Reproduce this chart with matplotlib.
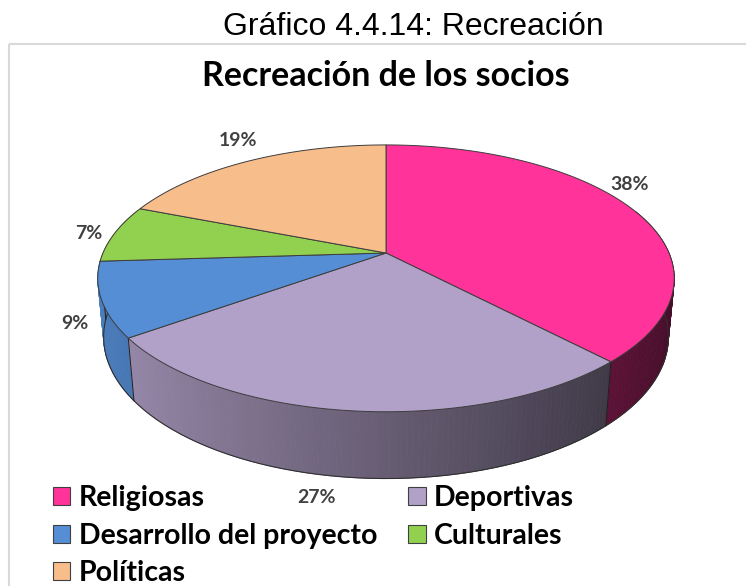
import numpy as np
import matplotlib.pyplot as plt
from matplotlib.colors import to_rgb
from matplotlib.patches import Polygon, Rectangle

categories = ["Religiosas", "Deportivas", "Desarrollo del proyecto", "Culturales", "Políticas"]
shares = [38, 27, 9, 7, 19]
colors = ["#FF3399", "#B1A0C7", "#558ED5", "#92D050", "#F7BD8B"]
pct_labels = [f"{v}%" for v in shares]

# perspective view of the disc, in pixel units
CX, CY = 386, 253
A, B = 283, 128.6
K, M, H = 0.19, 0.02, 58.6

# label nudges (pixels) from the rim point at the slice middle
label_offsets = [(-2, -24), (-37, 20), (-27, 24), (-26, 0), (-11, -21)]


def project(phi, r=1.0, z=0.0):
    """phi clockwise from 12 o'clock, z=0 top face, z=1 bottom face."""
    X = r * np.sin(phi)
    Y = r * np.cos(phi)
    d = 1 + K * Y + M * z
    return CX + A * X / d, CY + (-B * Y + H * z) / d


fig = plt.figure(figsize=(7.46, 5.86), dpi=100)
ax = fig.add_axes([0, 0, 1, 1])
ax.set_xlim(0, 746)
ax.set_ylim(586, 0)
ax.axis("off")

# chart area border
ax.add_patch(Rectangle((9, 44), 800, 600, fill=False, edgecolor="#D9D9D9", lw=1.5))

fractions = np.array(shares) / sum(shares)
bounds = np.concatenate([[0], np.cumsum(fractions)]) * 2 * np.pi

# side wall, shaded darker to the right
segs = []
for i, c in enumerate(colors):
    n = max(int(np.degrees(bounds[i + 1] - bounds[i])) + 2, 3)
    phis = np.linspace(bounds[i], bounds[i + 1], n)
    for p0, p1 in zip(phis[:-1], phis[1:]):
        mid = (p0 + p1) / 2
        if np.cos(mid) > 0.35:
            continue
        segs.append((np.cos(mid), p0, p1, c))

segs.sort(key=lambda s: -s[0])
for depth, p0, p1, c in segs:
    f = np.clip(0.58 - 0.32 * np.sin((p0 + p1) / 2), 0.26, 0.9)
    col = np.array(to_rgb(c)) * f
    pts = [project(p0), project(p1), project(p1, z=1), project(p0, z=1)]
    ax.add_patch(Polygon(pts, closed=True, facecolor=col, edgecolor=col, lw=0.6, zorder=2))

phi_b = np.linspace(np.pi / 2 - 0.3, 3 * np.pi / 2 + 0.3, 200)
bx, by = project(phi_b, z=1)
ax.plot(bx, by, color="#303030", lw=0.8, zorder=3)

for b in bounds[:-1]:
    if np.cos(b) < 0:
        x0, y0 = project(b)
        x1, y1 = project(b, z=1)
        ax.plot([x0, x1], [y0, y1], color="#202020", lw=0.7, zorder=3)

# top faces
for i, c in enumerate(colors):
    phis = np.linspace(bounds[i], bounds[i + 1], 120)
    ax_, ay_ = project(phis)
    pts = [(CX, CY)] + list(zip(ax_, ay_))
    ax.add_patch(Polygon(pts, closed=True, facecolor=c, edgecolor="#3C3C3C", lw=0.7, zorder=10))

# percentage labels
for i, txt in enumerate(pct_labels):
    mid = (bounds[i] + bounds[i + 1]) / 2
    if np.cos(mid) < -0.5:
        x, y = project(mid, z=1)
    else:
        x, y = project(mid)
    dx, dy = label_offsets[i]
    ax.text(x + dx, y + dy, txt, ha="center", va="center", fontsize=14,
            fontweight="bold", family="Lato", color="#404040", zorder=12)

ax.text(413, 27, "Gráfico 4.4.14: Recreación", ha="center", va="center",
        fontsize=23, family="Liberation Sans", color="#000000")
ax.text(386, 76, "Recreación de los socios", ha="center", va="center",
        fontsize=24.5, fontweight="bold", family="Lato", color="#000000")

handles = [Rectangle((0, 0), 1, 1, facecolor=c, edgecolor="#404040", lw=0.8) for c in colors]
order = [0, 2, 4, 1, 3]
leg = ax.legend([handles[k] for k in order], [categories[k] for k in order],
                loc="upper left", bbox_to_anchor=(0.052, 0.196), ncol=2,
                frameon=False, borderpad=0, handlelength=0.6, handleheight=0.6,
                handletextpad=0.3, columnspacing=1.1, labelspacing=0.4,
                prop={"family": "Lato", "weight": "bold", "size": 20.5})

fig.savefig("out.png", dpi=100)
